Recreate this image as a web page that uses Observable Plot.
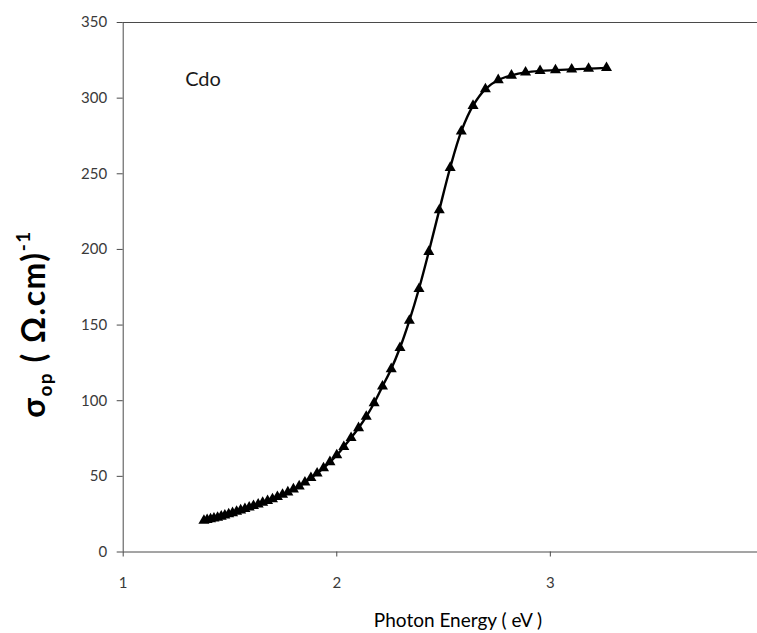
<!DOCTYPE html>
<html>
<head>
<meta charset="utf-8">
<script src="https://cdn.jsdelivr.net/npm/d3@7"></script>
<script src="https://cdn.jsdelivr.net/npm/@observablehq/plot@0.6"></script>
<style>
  html, body { margin: 0; padding: 0; background: #fff; overflow: hidden; }
  #chart { width: 757px; height: 633px; }
</style>
</head>
<body>
<div id="chart"></div>
<script>
// Photon energy (eV) of each measured point
const energy = [3.263, 3.179, 3.100, 3.024, 2.952, 2.884, 2.818, 2.756, 2.696, 2.638,
  2.583, 2.531, 2.480, 2.431, 2.385, 2.340, 2.296, 2.255, 2.214, 2.175,
  2.138, 2.102, 2.067, 2.033, 2.000, 1.968, 1.938, 1.908, 1.879, 1.851,
  1.824, 1.797, 1.771, 1.746, 1.722, 1.699, 1.676, 1.653, 1.632, 1.610,
  1.590, 1.570, 1.550, 1.531, 1.512, 1.494, 1.476, 1.459, 1.442, 1.425,
  1.409, 1.393, 1.378];
// Optical conductivity sigma_op (Ω.cm)^-1
const sigma = [320, 319.5, 319, 318.5, 318, 317, 315, 312, 306, 295,
  278, 254, 226, 198.5, 174, 153, 135, 121, 109.5, 98.5,
  89.5, 82, 75.5, 69.5, 64, 59.5, 55.5, 52, 49, 46,
  43.5, 41.5, 39.5, 38, 36.5, 35, 33.8, 32.6, 31.5, 30.5,
  29.5, 28.5, 27.6, 26.7, 25.8, 25, 24.2, 23.5, 22.8, 22.2,
  21.7, 21.2, 20.8];
const xTicks = [1, 2, 3];
const yTicks = [0, 50, 100, 150, 200, 250, 300, 350];
const annotation = [{x: 1.29, y: 312, label: "Cdo"}];

const data = energy.map((e, i) => ({x: e, y: sigma[i]}));

const axisColor = "#4a4a4a";
const chart = Plot.plot({
  width: 757,
  height: 633,
  marginLeft: 122.7,
  marginRight: 0,
  marginTop: 22,
  marginBottom: 81.5,
  style: {fontFamily: "Lato, sans-serif", fontSize: "15px", color: "#3a3a3a", background: "#fff"},
  x: {domain: [1, 3.97]},
  y: {domain: [0, 350]},
  marks: [
    Plot.ruleY([350], {stroke: axisColor, strokeWidth: 1}),
    Plot.ruleY([0], {stroke: axisColor, strokeWidth: 1}),
    Plot.ruleX([1], {stroke: axisColor, strokeWidth: 1}),
    Plot.axisY({ticks: yTicks, tickSize: 6, tickPadding: 10, label: null, stroke: axisColor, fill: "#3a3a3a"}),
    Plot.axisX({ticks: xTicks, tickSize: 5, tickPadding: 20, label: null, stroke: axisColor, fill: "#3a3a3a", tickFormat: d => String(d)}),
    Plot.line(data, {x: "x", y: "y", stroke: "#000", strokeWidth: 2.4, curve: "catmull-rom"}),
    Plot.dot(data, {x: "x", y: "y", symbol: "triangle", r: 4.1, fill: "#000", stroke: "none"}),
    Plot.text(annotation, {x: "x", y: "y", text: "label", textAnchor: "start", fontSize: 20, fill: "#1a1a1a"})
  ]
});

document.getElementById("chart").appendChild(chart);

// Axis titles with sub/superscripts
const svg = d3.select(chart);
const yt = svg.append("text")
  .attr("transform", "translate(45,324) rotate(-90)")
  .attr("text-anchor", "middle")
  .attr("font-family", "Lato, sans-serif")
  .attr("font-weight", "bold")
  .attr("font-size", 32)
  .attr("letter-spacing", 1.5)
  .attr("fill", "#000");
yt.append("tspan").text("σ");
yt.append("tspan").attr("font-size", 19).attr("dy", 7).text("op");
yt.append("tspan").attr("dy", -7).text(" ( Ω.cm)");
yt.append("tspan").attr("font-size", 19).attr("dy", -15).text("-1");

svg.append("text")
  .attr("x", 458)
  .attr("y", 627)
  .attr("text-anchor", "middle")
  .attr("font-family", "Lato, sans-serif")
  .attr("font-size", 19)
  .attr("fill", "#000")
  .text("Photon Energy ( eV )");
</script>
</body>
</html>
